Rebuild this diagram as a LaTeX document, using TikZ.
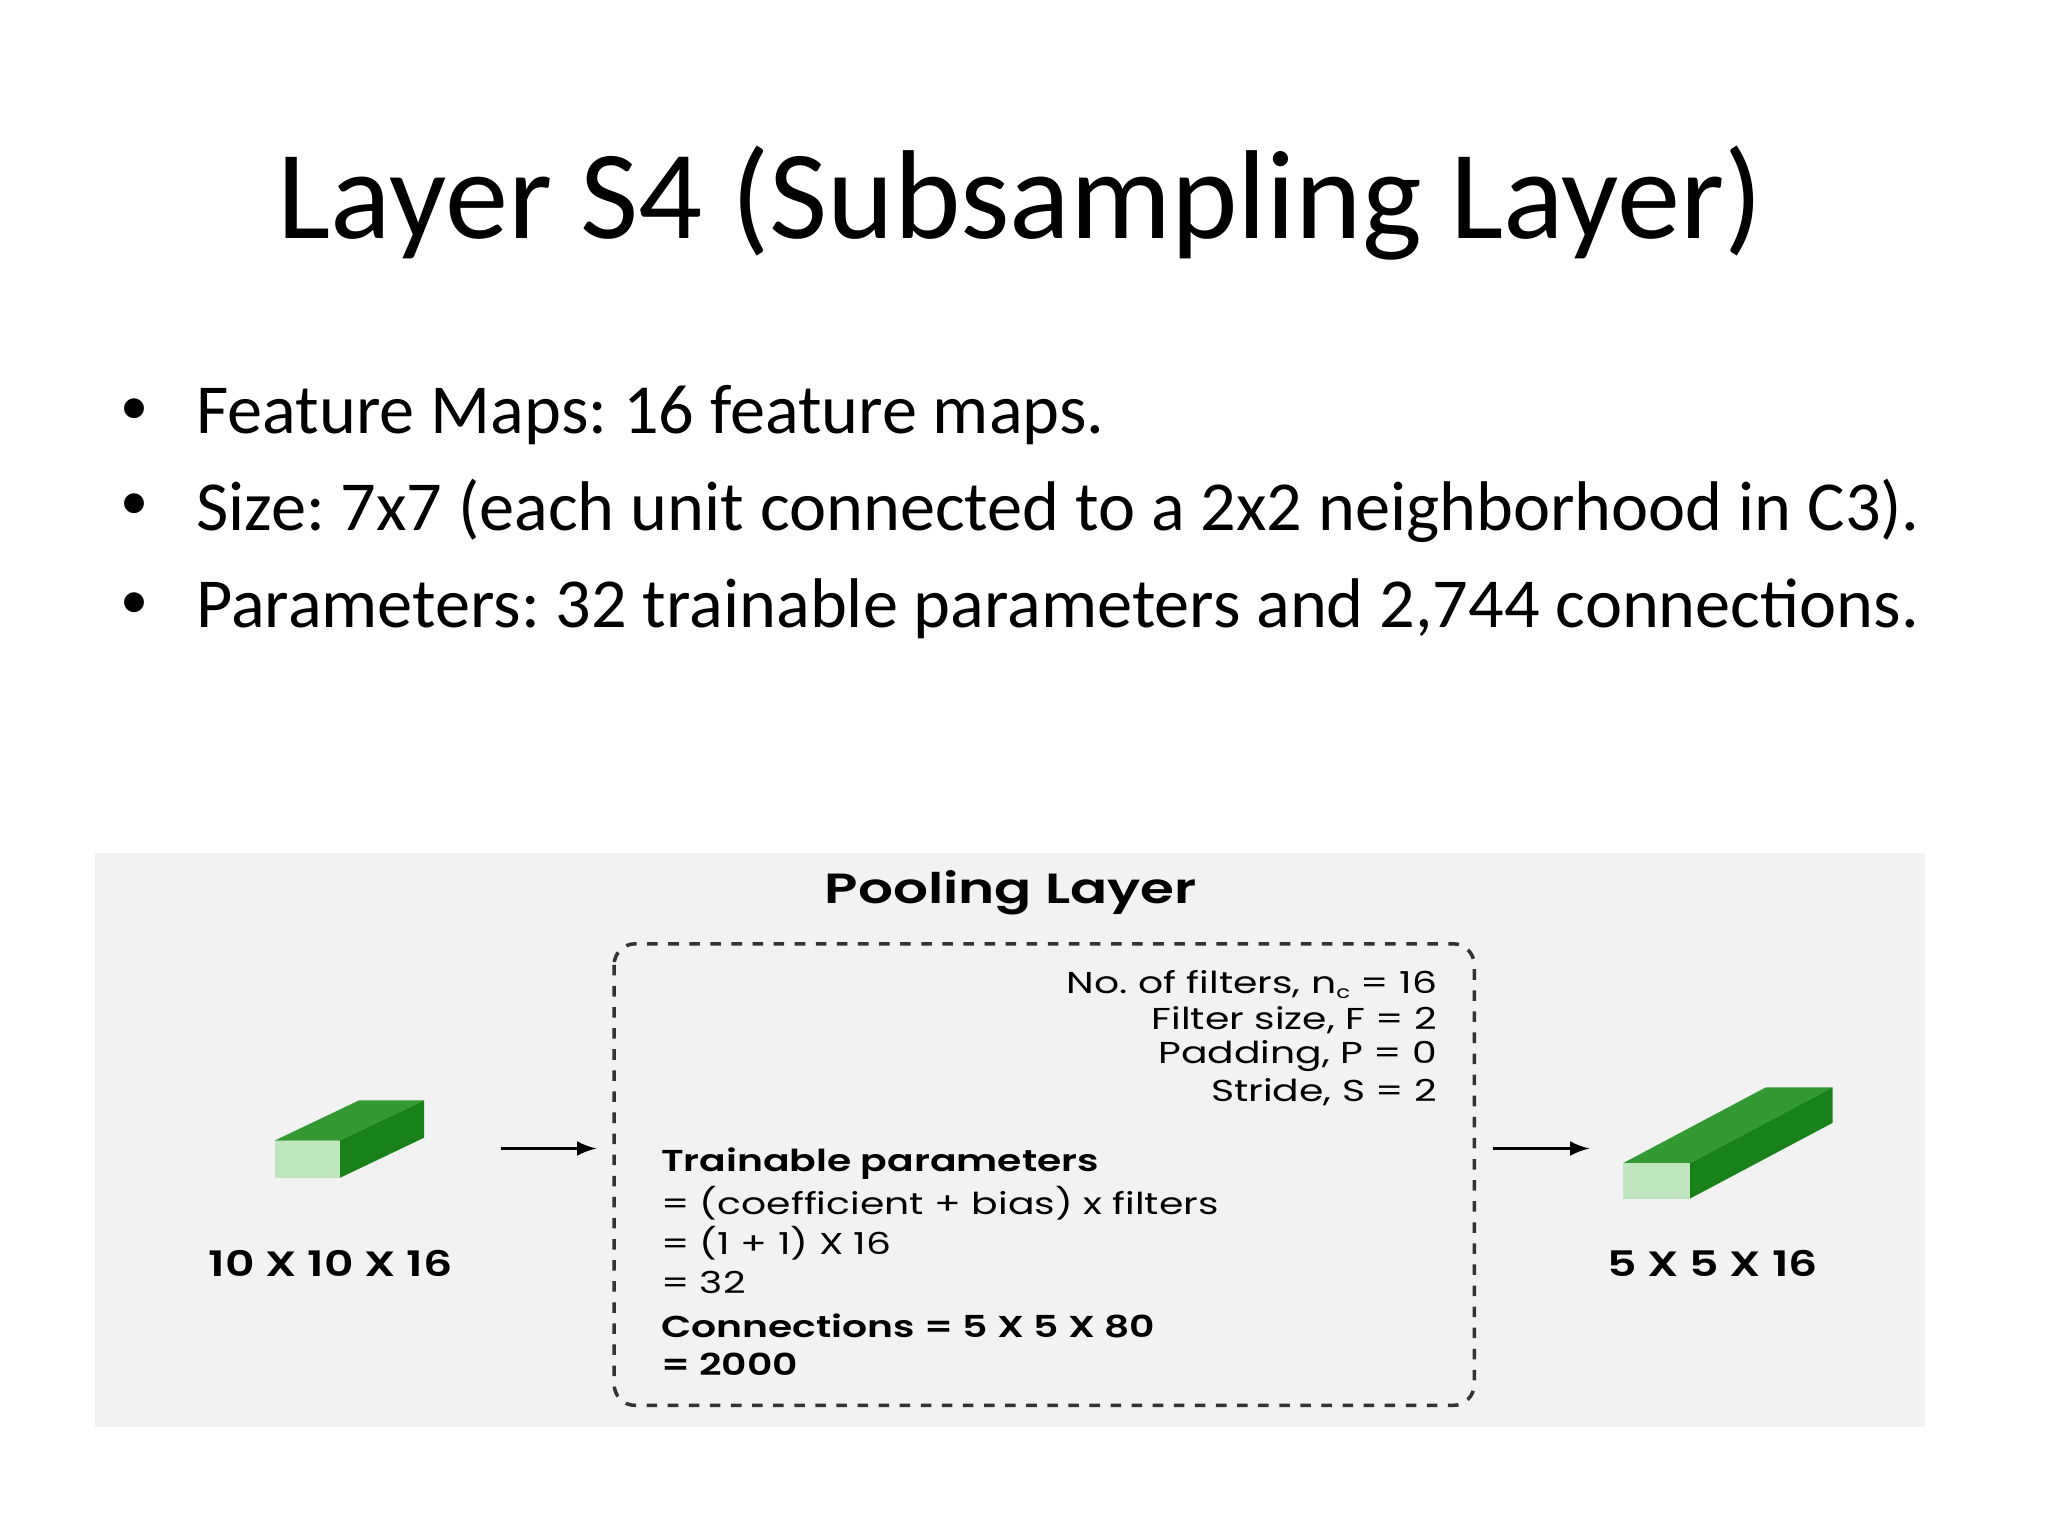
\documentclass[tikz,border=0pt]{standalone}
\usepackage{fontspec}
\setmainfont{Carlito}
\newfontfamily\pfont{Poppins}[FakeStretch=1.3]
\newfontfamily\pfontb{Poppins}[UprightFont=* SemiBold,FakeStretch=1.3]
\frenchspacing
\begin{document}
\begin{tikzpicture}[x=0.00984cm,y=-0.00984cm,
  bul/.style={anchor=west,font=\fontsize{20}{24}\selectfont},
  ptxt/.style={font=\pfont\fontsize{8.6}{10}\selectfont,inner sep=0},
  pbold/.style={font=\pfontb\fontsize{8.6}{10}\selectfont,inner sep=0},
  arr/.style={-latex,line width=0.9pt}]
\useasboundingbox (0,0) rectangle (2081,1561);
\node (title) at (1037,206) {\fontsize{36}{42}\selectfont Layer S4 (Subsampling Layer)};
\foreach \y/\t [count=\i] in {422/Feature Maps: 16 feature maps.,519/{Size: 7x7 (each unit connected to a 2x2 neighborhood in C3).},619/{Parameters: 32 trainable parameters and 2,744 connections.}}{
  \node[bul] (b\i) at (187,\y) {\t};
  \node (d\i) at (137,\y-4) {\fontsize{16}{20}\selectfont\textbullet};
}
\fill[black!5] (97,867) rectangle (1956,1450);
\node[font=\pfontb\fontsize{12}{14}\selectfont,inner sep=0] (pl) at (1027,907) {Pooling Layer};
\draw[dashed,line width=1pt,rounded corners=6pt,black!80] (624,959) rectangle (1498,1428);
\foreach \y/\t [count=\i] in {1000/{No. of filters, n\raisebox{-0.3ex}{\fontsize{5}{6}\selectfont c} = 16},1037/{Filter size, F = 2},1073/{Padding, P = 0},1110/{Stride, S = 2}}
  \node[ptxt,anchor=east] (r\i) at (1461,\y) {\t};
\node[pbold,anchor=west] (l1) at (671,1182) {Trainable parameters};
\node[ptxt,anchor=west] (l2) at (671,1223) {= (coefficient + bias) x filters};
\node[ptxt,anchor=west] (l3) at (671,1263) {= (1 + 1) X 16};
\node[ptxt,anchor=west] (l4) at (671,1303) {= 32};
\node[pbold,anchor=west] (l5) at (671,1347) {Connections = 5 X 5 X 80};
\node[pbold,anchor=west] (l6) at (671,1386) {= 2000};
% left cuboid
\fill[green!50!black!80] (279,1159)--(345,1159)--(431,1118)--(365,1118)--cycle;
\fill[green!45!black!90] (345,1159)--(345,1197)--(431,1156)--(431,1118)--cycle;
\fill[green!60!black!25] (279,1159) rectangle (345,1197);
\node[font=\pfontb\fontsize{10}{12}\selectfont,inner sep=0] (in) at (336,1284) {10 X 10 X 16};
% right cuboid
\fill[green!50!black!80] (1649,1182)--(1717,1182)--(1862,1105)--(1794,1105)--cycle;
\fill[green!45!black!90] (1717,1182)--(1717,1218)--(1862,1141)--(1862,1105)--cycle;
\fill[green!60!black!25] (1649,1182) rectangle (1717,1218);
\node[font=\pfontb\fontsize{10}{12}\selectfont,inner sep=0] (out) at (1740,1284) {5 X 5 X 16};
\coordinate (a1) at (509,1167); \coordinate (a2) at (606,1167);
\coordinate (a3) at (1517,1167); \coordinate (a4) at (1615,1167);
\draw[arr] (a1)--(a2); \draw[arr] (a3)--(a4);
\end{tikzpicture}
\end{document}
